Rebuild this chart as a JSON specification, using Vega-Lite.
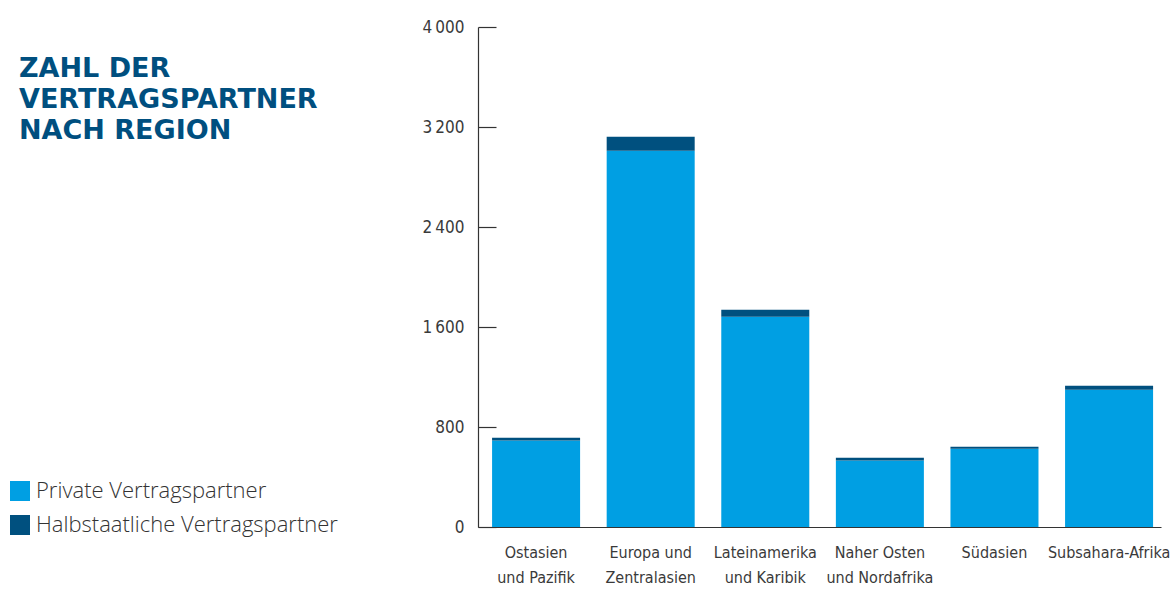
{
  "$schema": "https://vega.github.io/schema/vega-lite/v6.json",
  "width": 683,
  "height": 500,
  "autosize": {"type": "none"},
  "padding": {"left": 478, "top": 27, "right": 13, "bottom": 63},
  "background": "white",
  "title": {
    "text": ["ZAHL DER", "VERTRAGSPARTNER", "NACH REGION"],
    "anchor": "start",
    "frame": "group",
    "orient": "top",
    "font": "DejaVu Sans",
    "fontWeight": "bold",
    "fontSize": 27,
    "lineHeight": 31,
    "color": "#004F7F",
    "baseline": "top",
    "offset": 0,
    "dx": -459,
    "dy": 127
  },
  "data": {
    "values": [
      {"region": "Ostasien\nund Pazifik", "type": "Private Vertragspartner", "count": 693},
      {"region": "Ostasien\nund Pazifik", "type": "Halbstaatliche Vertragspartner", "count": 21},
      {"region": "Europa und\nZentralasien", "type": "Private Vertragspartner", "count": 3010},
      {"region": "Europa und\nZentralasien", "type": "Halbstaatliche Vertragspartner", "count": 112},
      {"region": "Lateinamerika\nund Karibik", "type": "Private Vertragspartner", "count": 1682},
      {"region": "Lateinamerika\nund Karibik", "type": "Halbstaatliche Vertragspartner", "count": 56},
      {"region": "Naher Osten\nund Nordafrika", "type": "Private Vertragspartner", "count": 533},
      {"region": "Naher Osten\nund Nordafrika", "type": "Halbstaatliche Vertragspartner", "count": 21},
      {"region": "Südasien", "type": "Private Vertragspartner", "count": 626},
      {"region": "Südasien", "type": "Halbstaatliche Vertragspartner", "count": 16},
      {"region": "Subsahara-Afrika", "type": "Private Vertragspartner", "count": 1098},
      {"region": "Subsahara-Afrika", "type": "Halbstaatliche Vertragspartner", "count": 32}
    ]
  },
  "mark": {"type": "bar"},
  "encoding": {
    "x": {
      "field": "region",
      "type": "nominal",
      "sort": null,
      "scale": {"paddingInner": 0.232, "paddingOuter": 0.096, "align": 0.64},
      "axis": {
        "title": null,
        "ticks": false,
        "labelAngle": 0,
        "labelExpr": "split(datum.label, '\\n')",
        "labelFont": "DejaVu Sans Condensed, sans-serif",
        "labelFontSize": 16,
        "labelLineHeight": 25,
        "labelColor": "#3a3a3a",
        "labelPadding": 17,
        "labelLimit": 200,
        "domainColor": "#333333",
        "domainWidth": 1.2
      }
    },
    "y": {
      "field": "count",
      "type": "quantitative",
      "stack": "zero",
      "scale": {"domain": [0, 4000], "nice": false},
      "axis": {
        "title": null,
        "grid": false,
        "values": [0, 800, 1600, 2400, 3200, 4000],
        "labelExpr": "replace(format(datum.value, ','), ',', '\u2009')",
        "labelFont": "DejaVu Sans Condensed, sans-serif",
        "labelFontSize": 17,
        "labelColor": "#3a3a3a",
        "labelPadding": 32,
        "tickSize": -18,
        "tickColor": "#333333",
        "tickWidth": 1.2,
        "domainColor": "#333333",
        "domainWidth": 1.2
      }
    },
    "color": {
      "field": "type",
      "type": "nominal",
      "scale": {
        "domain": ["Private Vertragspartner", "Halbstaatliche Vertragspartner"],
        "range": ["#009FE3", "#00507F"]
      },
      "legend": {
        "orient": "none",
        "legendX": -469,
        "legendY": 453,
        "title": null,
        "symbolType": "square",
        "symbolSize": 400,
        "symbolStrokeWidth": 0,
        "symbolOpacity": 1,
        "labelFont": "Open Sans",
        "labelFontWeight": 300,
        "labelFontSize": 22,
        "labelColor": "#333333",
        "labelOffset": 5,
        "labelLimit": 400,
        "rowPadding": 12
      }
    },
    "order": {"field": "type", "sort": "descending"}
  },
  "config": {"view": {"stroke": null}}
}
